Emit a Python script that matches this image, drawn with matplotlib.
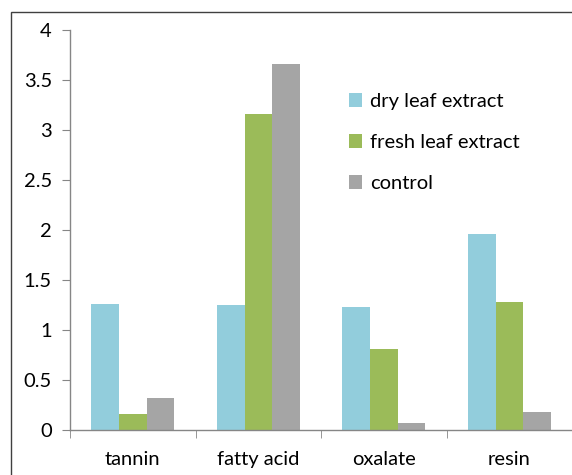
import matplotlib.pyplot as plt
import numpy as np
from matplotlib.patches import Rectangle

plt.rcParams['font.family'] = ['Lato', 'DejaVu Sans']

categories = ["tannin", "fatty acid", "oxalate", "resin"]
dry_leaf = [1.26, 1.25, 1.23, 1.96]
fresh_leaf = [0.16, 3.16, 0.81, 1.28]
control = [0.32, 3.66, 0.07, 0.18]
series_names = ["dry leaf extract", "fresh leaf extract", "control"]
colors = ["#92CDDC", "#9BBB59", "#A5A5A5"]

fig = plt.figure(figsize=(5.72, 4.75), dpi=100)
ax = fig.add_axes([0.1224, 0.0947, 0.878, 0.8421])

x = np.arange(len(categories))
w = 0.22
for i, (vals, name, c) in enumerate(zip([dry_leaf, fresh_leaf, control], series_names, colors)):
    ax.bar(x + (i - 1) * w, vals, width=w, color=c, label=name)

ax.set_xlim(-0.5, 3.5)
ax.set_ylim(0, 4)
ax.set_yticks(np.arange(0, 4.01, 0.5))
ax.set_yticklabels(["0", "0.5", "1", "1.5", "2", "2.5", "3", "3.5", "4"])
ax.set_xticks(x)
ax.set_xticklabels(categories)
ax.set_xticks(np.arange(-0.5, 3.6, 1), minor=True)
ax.tick_params(axis='x', which='major', length=0, pad=15, labelsize=14.5)
ax.tick_params(axis='x', which='minor', length=6, color="#868686", direction='out')
ax.tick_params(axis='y', length=6, color="#868686", labelsize=14.5, pad=7)
for s in ["top", "right"]:
    ax.spines[s].set_visible(False)
for s in ["left", "bottom"]:
    ax.spines[s].set_color("#868686")
    ax.spines[s].set_linewidth(1.0)

ax.legend(loc="upper left", bbox_to_anchor=(0.52, 0.888), frameon=False, fontsize=14.5,
          handlelength=0.65, handleheight=0.65, handletextpad=0.4, labelspacing=1.2)

border = Rectangle((11 / 572, -0.1), 1.2, 0.9747 + 0.1, transform=fig.transFigure,
                   fill=False, edgecolor="#404040", linewidth=1.0, clip_on=False)
fig.patches.append(border)

fig.savefig("out.png", dpi=100)
